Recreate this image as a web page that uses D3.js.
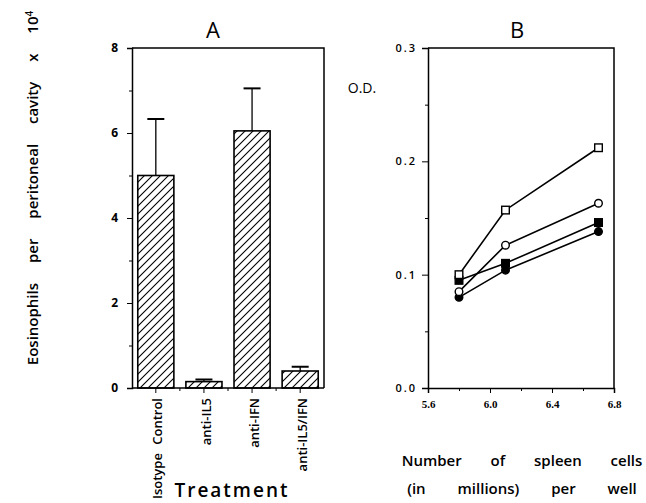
<!DOCTYPE html>
<html>
<head>
<meta charset="utf-8">
<script src="https://cdn.jsdelivr.net/npm/d3@7"></script>
<style>
  html, body { margin: 0; padding: 0; background: #fff; }
  svg { display: block; }
  text { font-family: "Open Sans", "DejaVu Sans", sans-serif; fill: #000; }
</style>
</head>
<body>
<svg id="chart" width="646" height="503"></svg>
<script>
// ---------- Panel A data ----------
const treatments = ["Isotype Control", "anti-IL5", "anti-IFN", "anti-IL5/IFN"];
const eosinophils = [5.0, 0.15, 6.05, 0.4];
const eosinophilsErr = [1.33, 0.05, 1.0, 0.1];
const yTicksA = [0, 2, 4, 6, 8];
const yMinorA = [1, 3, 5, 7];

// ---------- Panel B data ----------
const spleenCells = [5.8, 6.1, 6.7];
const odOpenSquare = [0.100, 0.157, 0.212];
const odOpenCircle = [0.085, 0.126, 0.163];
const odFilledSquare = [0.095, 0.110, 0.146];
const odFilledCircle = [0.080, 0.104, 0.138];
const xTicksB = [5.6, 6.0, 6.4, 6.8];
const xMinorB = [5.8, 6.2, 6.6];
const yTicksB = [0.0, 0.1, 0.2, 0.3];
const yMinorB = [0.05, 0.15, 0.25];

const svg = d3.select("#chart");

// hatch pattern
const defs = svg.append("defs");
const pat = defs.append("pattern").attr("id", "hatch")
  .attr("patternUnits", "userSpaceOnUse").attr("width", 8).attr("height", 8);
pat.append("rect").attr("width", 8).attr("height", 8).attr("fill", "#fff");
pat.append("path").attr("d", "M0,8 L8,0 M-2,2 L2,-2 M6,10 L10,6")
  .attr("stroke", "#000").attr("stroke-width", 1.1);

// ================= Panel A =================
const A = { left: 132, right: 324, top: 48, bottom: 388 };
const xA = d3.scaleBand().domain(treatments).range([A.left, A.right]).paddingInner(0.25).paddingOuter(0.12);
const yA = d3.scaleLinear().domain([0, 8]).range([A.bottom, A.top]);

const gA = svg.append("g");
gA.append("path").attr("d", `M${A.left},${A.top}H${A.right}V${A.bottom}`)
  .attr("fill", "none").attr("stroke", "#000").attr("stroke-width", 1.5);

gA.selectAll("rect.bar").data(treatments).join("rect").attr("class", "bar")
  .attr("x", d => xA(d)).attr("width", xA.bandwidth())
  .attr("y", (d, i) => yA(eosinophils[i]))
  .attr("height", (d, i) => yA(0) - yA(eosinophils[i]))
  .attr("fill", "url(#hatch)").attr("stroke", "#000").attr("stroke-width", 1.6);

const capW = 17;
treatments.forEach((t, i) => {
  const cx = xA(t) + xA.bandwidth() / 2;
  const y1 = yA(eosinophils[i]), y2 = yA(eosinophils[i] + eosinophilsErr[i]);
  gA.append("line").attr("x1", cx).attr("x2", cx).attr("y1", y1).attr("y2", y2)
    .attr("stroke", "#000").attr("stroke-width", 1.3);
  gA.append("line").attr("x1", cx - capW / 2).attr("x2", cx + capW / 2).attr("y1", y2).attr("y2", y2)
    .attr("stroke", "#000").attr("stroke-width", 2);
});

const yAxisA = gA.append("g").attr("transform", `translate(${A.left},0)`)
  .call(d3.axisLeft(yA).tickValues(yTicksA).tickSize(5).tickPadding(9).tickFormat(d3.format("d")));
gA.append("g").attr("transform", `translate(${A.left},0)`)
  .call(d3.axisLeft(yA).tickValues(yMinorA).tickSize(3).tickFormat(""))
  .call(g => g.select(".domain").remove());
yAxisA.selectAll("text").style("font-size", "12px").style("font-weight", "700");

const xAxisA = gA.append("g").attr("transform", `translate(0,${A.bottom})`)
  .call(d3.axisBottom(xA).tickSize(5).tickFormat(""));
xAxisA.select(".domain").attr("d", `M${A.left},0H${A.right}`);
const betweenA = treatments.slice(1).map(t => xA(t) - xA.step() * xA.paddingInner() / 2);
gA.append("g").selectAll("line").data(betweenA).join("line")
  .attr("x1", d => d).attr("x2", d => d).attr("y1", A.bottom).attr("y2", A.bottom + 3)
  .attr("stroke", "#000");
svg.selectAll(".domain").attr("stroke-width", 1.5);

gA.selectAll("text.cat").data(treatments).join("text").attr("class", "cat")
  .attr("transform", d => `translate(${xA(d) + xA.bandwidth() / 2 + 2},${A.bottom + 10}) rotate(-90)`)
  .attr("text-anchor", "end").attr("dy", "0.35em")
  .style("font-size", "13px").style("font-weight", "600").style("word-spacing", "5px")
  .text(d => d);

gA.append("text").attr("x", 232).attr("y", 497).attr("text-anchor", "middle")
  .style("font-size", "19px").style("font-weight", "600").style("letter-spacing", "2px")
  .text("Treatment");

gA.append("text").attr("x", 213).attr("y", 38).attr("text-anchor", "middle")
  .style("font-size", "22px").text("A");

const yt = gA.append("text").attr("transform", "translate(38,188) rotate(-90)")
  .attr("text-anchor", "middle")
  .style("font-size", "15px").style("font-weight", "600").style("word-spacing", "16px");
yt.append("tspan").text("Eosinophils per peritoneal cavity x 10");
yt.append("tspan").attr("dy", "-0.5em").style("font-size", "10px").text("4");

// ================= Panel B =================
const B = { left: 428, right: 614, top: 48, bottom: 388 };
const xB = d3.scaleLinear().domain([5.6, 6.8]).range([B.left, B.right]);
const yB = d3.scaleLinear().domain([0, 0.3]).range([B.bottom, B.top]);
const gB = svg.append("g");

gB.append("path").attr("d", `M${B.left},${B.top}H${B.right}V${B.bottom}`)
  .attr("fill", "none").attr("stroke", "#000").attr("stroke-width", 1.5);

const yAxisB = gB.append("g").attr("transform", `translate(${B.left},0)`)
  .call(d3.axisLeft(yB).tickValues(yTicksB).tickSize(6).tickPadding(5).tickFormat(d3.format(".1f")));
gB.append("g").attr("transform", `translate(${B.left},0)`)
  .call(d3.axisLeft(yB).tickValues(yMinorB).tickSize(3).tickFormat(""))
  .call(g => g.select(".domain").remove());
yAxisB.selectAll("text").style("font-size", "11px").style("font-weight", "600").style("letter-spacing", "2px");

const xAxisB = gB.append("g").attr("transform", `translate(0,${B.bottom})`)
  .call(d3.axisBottom(xB).tickValues(xTicksB).tickSize(5).tickPadding(7).tickFormat(d3.format(".1f")));
gB.append("g").attr("transform", `translate(0,${B.bottom})`)
  .call(d3.axisBottom(xB).tickValues(xMinorB).tickSize(3).tickFormat(""))
  .call(g => g.select(".domain").remove());
xAxisB.selectAll("text").style("font-family", "'Liberation Serif', serif")
  .style("font-size", "11px").style("font-weight", "700");
svg.selectAll(".domain").attr("stroke-width", 1.5);

const line = d3.line().x((d, i) => xB(spleenCells[i])).y(d => yB(d));
const series = [
  { v: odFilledCircle, shape: "circle", fill: "#000" },
  { v: odFilledSquare, shape: "square", fill: "#000" },
  { v: odOpenCircle, shape: "circle", fill: "#fff" },
  { v: odOpenSquare, shape: "square", fill: "#fff" }
];
series.forEach(s => {
  gB.append("path").attr("d", line(s.v)).attr("fill", "none")
    .attr("stroke", "#000").attr("stroke-width", 1.6);
});
series.forEach(s => {
  const g = gB.append("g");
  if (s.shape === "circle") {
    g.selectAll("circle").data(s.v).join("circle")
      .attr("cx", (d, i) => xB(spleenCells[i])).attr("cy", d => yB(d)).attr("r", 3.8)
      .attr("fill", s.fill).attr("stroke", "#000").attr("stroke-width", 1.4);
  } else {
    g.selectAll("rect").data(s.v).join("rect")
      .attr("x", (d, i) => xB(spleenCells[i]) - 3.8).attr("y", d => yB(d) - 3.8)
      .attr("width", 7.6).attr("height", 7.6)
      .attr("fill", s.fill).attr("stroke", "#000").attr("stroke-width", 1.4);
  }
});

gB.append("text").attr("x", 517).attr("y", 38).attr("text-anchor", "middle")
  .style("font-size", "22px").text("B");
gB.append("text").attr("x", 362).attr("y", 93).attr("text-anchor", "middle")
  .style("font-size", "14px").text("O.D.");
gB.append("text").attr("x", 522).attr("y", 466).attr("text-anchor", "middle")
  .style("font-size", "15px").style("font-weight", "600").style("word-spacing", "25px")
  .text("Number of spleen cells");
gB.append("text").attr("x", 522).attr("y", 494).attr("text-anchor", "middle")
  .style("font-size", "15px").style("font-weight", "600").style("word-spacing", "28px")
  .text("(in millions) per well");
</script>
</body>
</html>
